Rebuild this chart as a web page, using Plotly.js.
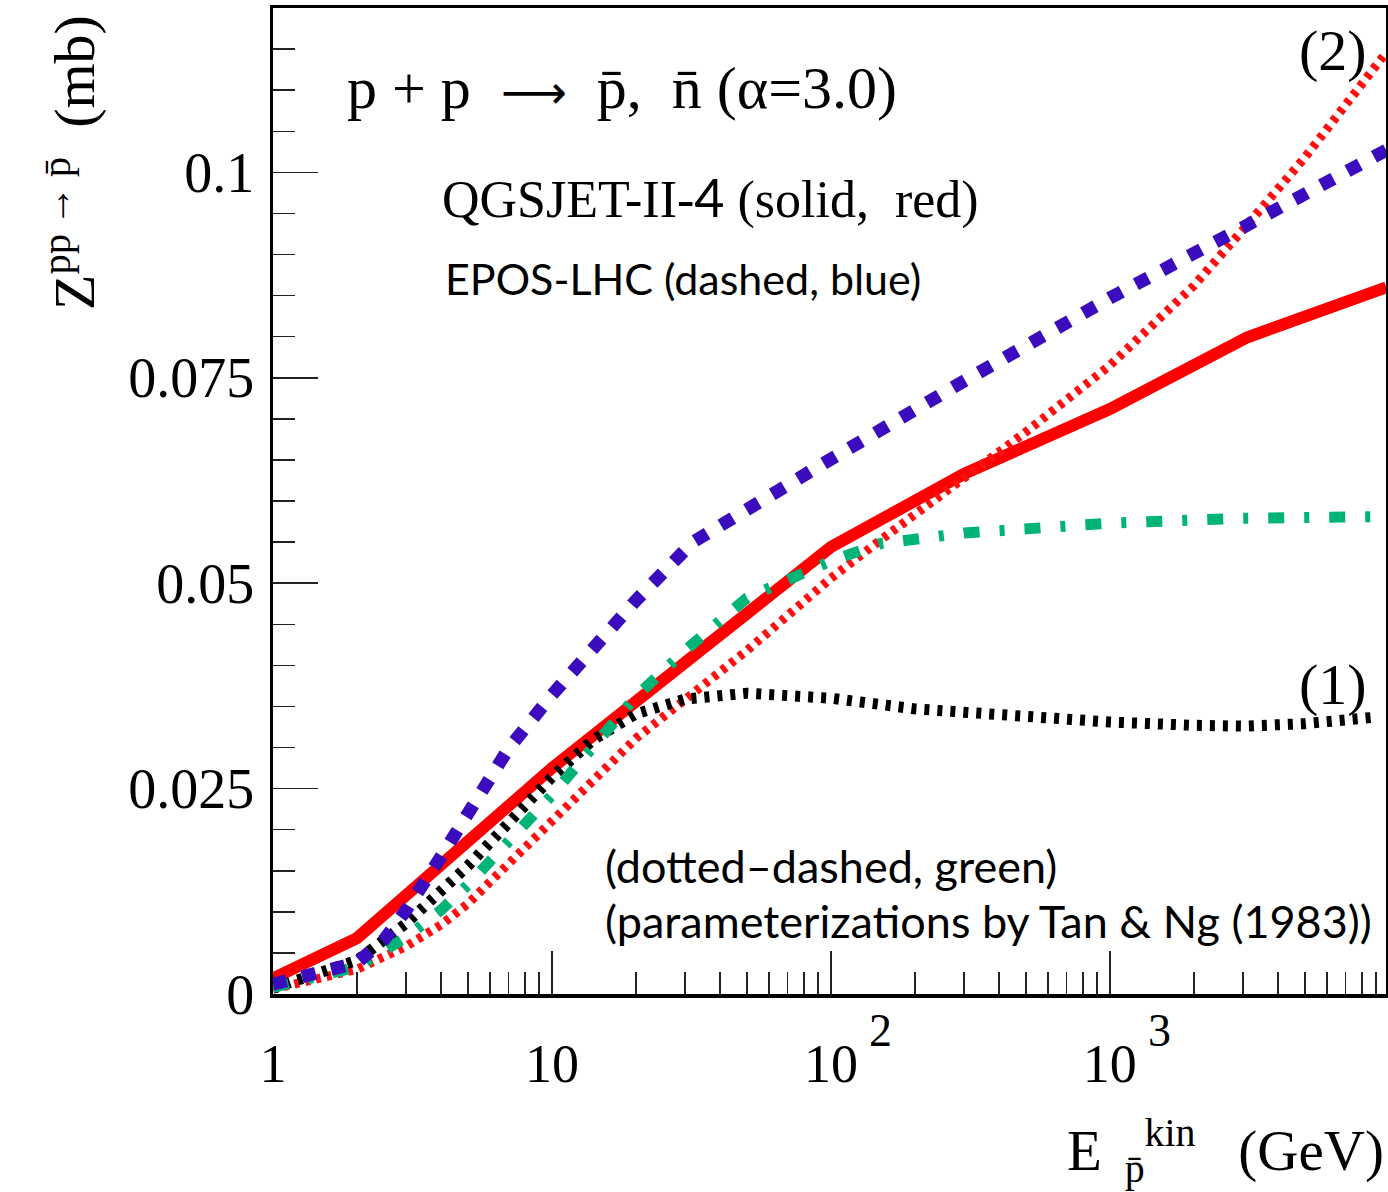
<!DOCTYPE html>
<html>
<head>
<meta charset="utf-8">
<script src="https://cdn.plot.ly/plotly-3.0.1.min.js"></script>
<style>html,body{margin:0;padding:0;background:#fff;}#chart{width:1388px;height:1192px;}</style>
</head>
<body>
<div id="chart"></div>
<script>
// ---- data ----
// QGSJET-II-4 (solid, red)
const E_QGSJET = [1, 2, 10, 100, 300, 1000, 3100, 9800];
const Z_QGSJET = [0.0019, 0.0068, 0.0275, 0.0544, 0.0633, 0.0712, 0.0799, 0.0860];
// EPOS-LHC (dashed, blue)
const E_EPOS = [1, 1.5, 2, 2.5, 3, 4, 5, 7, 10, 20, 32, 50, 100, 300, 1000, 3000, 9800];
const Z_EPOS = [0.0012, 0.0026, 0.0038, 0.0066, 0.0102, 0.0167, 0.0218, 0.0299, 0.0364, 0.0479, 0.0550, 0.0591, 0.0651, 0.0746, 0.0847, 0.0933, 0.1027];
// Tan & Ng parameterization, curve (2) (red dotted)
const E_TN2 = [1, 2, 3, 4, 5, 10, 20, 50, 100, 150, 200, 340, 500, 1000, 2000, 3000, 5000, 9800];
const Z_TN2 = [0.0006, 0.0030, 0.0058, 0.0084, 0.0110, 0.0210, 0.0311, 0.0418, 0.0506, 0.0552, 0.0583, 0.0640, 0.0684, 0.0765, 0.0862, 0.0930, 0.1018, 0.1146];
// Tan & Ng parameterization, curve (1) (black dotted)
const E_TN1 = [1, 2, 3, 4, 5, 10, 14, 20, 30, 50, 100, 200, 300, 500, 1000, 2000, 3000, 5000, 9000];
const Z_TN1 = [0.0007, 0.0041, 0.0086, 0.0124, 0.0156, 0.0264, 0.0309, 0.0341, 0.0359, 0.0366, 0.0360, 0.0347, 0.0343, 0.0337, 0.0331, 0.0327, 0.0326, 0.0329, 0.0337];
// Tan & Ng parameterization (dotted-dashed, green)
const E_TNG = [1, 2, 3, 4, 5, 10, 20, 30, 50, 100, 150, 300, 1000, 3000, 9800];
const Z_TNG = [0.0008, 0.0033, 0.0069, 0.0102, 0.0133, 0.0242, 0.0362, 0.0418, 0.0482, 0.0527, 0.0548, 0.0561, 0.0573, 0.0579, 0.0581];

// ticks
const X_TICKS = [1, 10, 100, 1000];
const X_TICK_TEXT = ['1', '10', '10', '10'];
const X_TICK_EXPONENTS = ['2', '3'];          // exponents drawn on the 10^2 and 10^3 labels
const X_MINOR = [2,3,4,5,6,7,8,9,20,30,40,50,60,70,80,90,200,300,400,500,600,700,800,900,2000,3000,4000,5000,6000,7000,8000,9000];
const Y_TICKS = [0, 0.025, 0.05, 0.075, 0.1];
const Y_TICK_TEXT = ['0', '0.025', '0.05', '0.075', '0.1'];

// ---- layout helpers (pixel -> paper) ----
const L = 273, R = 1386, T = 8, B = 994;
const px = x => (x - L) / (R - L);
const py = y => (B - y) / (B - T);

const traces = [
  {x: E_QGSJET, y: Z_QGSJET, mode: 'lines', line: {color: '#ff0000', width: 12}},
  {x: E_TN2, y: Z_TN2, mode: 'lines', line: {color: '#ff1010', width: 9, dash: '5px,6px'}},
  {x: E_TN1, y: Z_TN1, mode: 'lines', line: {color: '#000000', width: 11, dash: '5px,8px'}},
  {x: E_TNG, y: Z_TNG, mode: 'lines', line: {color: '#00b478', width: 11, dash: '16px,20px,5px,20px'}},
  {x: E_EPOS, y: Z_EPOS, mode: 'lines', line: {color: '#3a0cbe', width: 13, dash: '14px,16px'}}
];

const serif = 'Liberation Serif, Times New Roman, serif';
const sans = 'Lato, Carlito, Calibri, sans-serif';
const nb = '\u00a0';

const annotations = [
  {text: 'p + p' + nb + nb + '<span style="font-family:DejaVu Sans;font-size:46px">\u27f6</span>' + nb + nb + 'p\u0304,' + nb + nb + 'n\u0304 (\u03b1=3.0)',
   x: px(345), y: py(88), xanchor: 'left', yanchor: 'middle', font: {family: serif, size: 60, color: '#000'}},
  {text: 'QGSJET-II-<span style="font-family:Lato">4</span> (solid,' + nb + nb + 'red)',
   x: px(440), y: py(197), xanchor: 'left', yanchor: 'middle', font: {family: serif, size: 52, color: '#000'}},
  {text: 'EPOS-LHC (dashed, blue)',
   x: px(443), y: py(278), xanchor: 'left', yanchor: 'middle', font: {family: sans, size: 43, color: '#000'}},
  {text: '(dotted\u2013dashed, green)',
   x: px(603), y: py(866), xanchor: 'left', yanchor: 'middle', font: {family: sans, size: 45, color: '#000'}},
  {text: '(parameterizations by Tan &amp; Ng (1983))',
   x: px(603), y: py(921), xanchor: 'left', yanchor: 'middle', font: {family: sans, size: 45, color: '#000'}},
  {text: '(2)', x: px(1369), y: py(50), xanchor: 'right', yanchor: 'middle', font: {family: serif, size: 58, color: '#000'}},
  {text: '(1)', x: px(1369), y: py(685), xanchor: 'right', yanchor: 'middle', font: {family: serif, size: 58, color: '#000'}},
  {text: X_TICK_EXPONENTS[0], x: px(880), y: py(1030), xanchor: 'center', yanchor: 'middle', font: {family: serif, size: 46, color: '#000'}},
  {text: X_TICK_EXPONENTS[1], x: px(1159), y: py(1030), xanchor: 'center', yanchor: 'middle', font: {family: serif, size: 46, color: '#000'}},
  {text: 'E\u2009\u2009<sub>p\u0304</sub><sup>kin</sup>' + nb + nb + nb + '(GeV)',
   x: px(1386), y: py(1150), xanchor: 'right', yanchor: 'middle', font: {family: serif, size: 57, color: '#000'}},
  {text: 'Z<sup>pp\u2009\u2192\u2009p\u0304</sup>' + nb + nb + '(mb)',
   x: px(70), y: py(163), xanchor: 'center', yanchor: 'middle', textangle: -90, font: {family: serif, size: 58, color: '#000'}}
].map(a => Object.assign({xref: 'paper', yref: 'paper', showarrow: false}, a));

const layout = {
  width: 1388, height: 1192,
  margin: {l: L, r: 1388 - R, t: T, b: 1192 - B, pad: 0},
  paper_bgcolor: '#ffffff', plot_bgcolor: '#ffffff',
  showlegend: false,
  xaxis: {
    type: 'log', range: [0, 3.99],
    tickmode: 'array', tickvals: X_TICKS, ticktext: X_TICK_TEXT,
    ticks: 'inside', ticklen: 43, tickwidth: 1.5, tickcolor: '#222',
    showline: true, mirror: true, linewidth: 3.5, linecolor: '#000',
    showgrid: false, zeroline: false,
    tickfont: {family: serif, size: 54, color: '#000'},
    ticklabelstandoff: 20,
    minor: {tickmode: 'array', tickvals: X_MINOR, ticks: 'inside', ticklen: 22, tickwidth: 1.5, tickcolor: '#222', showgrid: false}
  },
  yaxis: {
    range: [0, 0.12],
    tickmode: 'array', tickvals: Y_TICKS, ticktext: Y_TICK_TEXT,
    ticks: 'inside', ticklen: 45, tickwidth: 1.5, tickcolor: '#222',
    showline: true, mirror: true, linewidth: 3.5, linecolor: '#000',
    showgrid: false, zeroline: false,
    tickfont: {family: serif, size: 56, color: '#000'},
    ticklabelstandoff: 4,
    minor: {dtick: 0.005, ticks: 'inside', ticklen: 22, tickwidth: 1.5, tickcolor: '#222', showgrid: false}
  },
  annotations: annotations
};

Plotly.newPlot('chart', traces, layout, {displayModeBar: false, staticPlot: true});
</script>
</body>
</html>
